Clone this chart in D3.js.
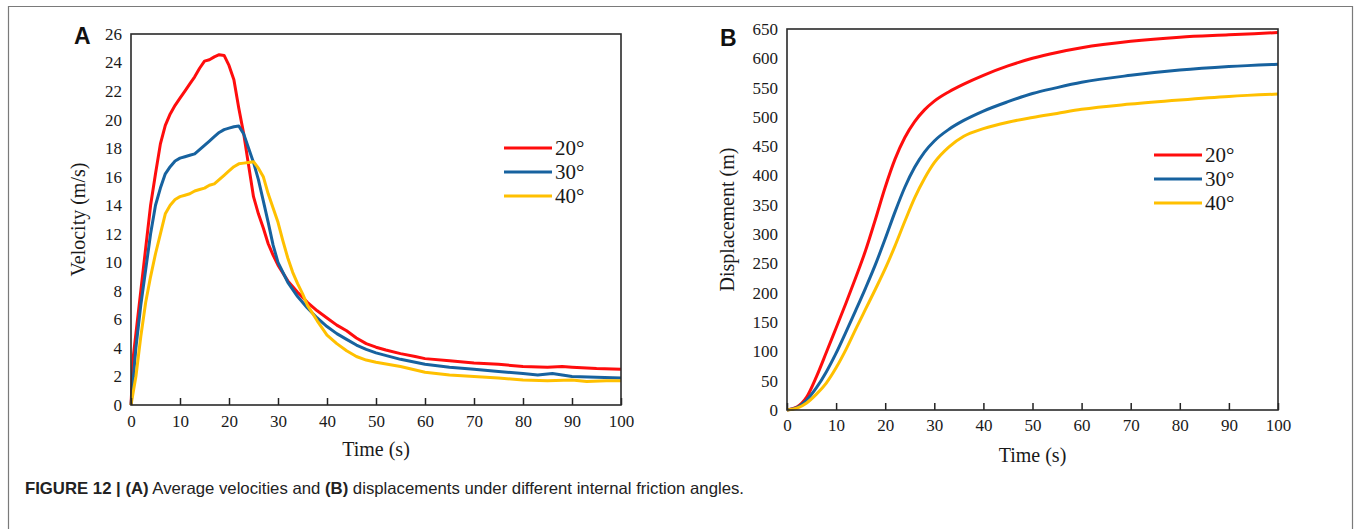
<!DOCTYPE html>
<html>
<head>
<meta charset="utf-8">
<script src="https://d3js.org/d3.v7.min.js"></script>
<style>
  body { margin: 0; background: #fff; }
  svg { display: block; }
</style>
</head>
<body>
<svg id="frame" width="1356" height="529"></svg>
<script>

// series labels + colours
var angles = ["20°", "30°", "40°"]
var colors = ["#ff0d0d", "#17629f", "#ffc000"]

// (A) average velocity, [time s, velocity m/s]
var vel20 = [[0,0],[0.5,3.5],[1,5],[2,8],[3,11],[4,14],[5,16.2],[6,18.3],[7,19.6],[8,20.4],[9,21],[10,21.5],[11,22],
  [12,22.5],[13,23],[14,23.6],[15,24.1],[16,24.2],[17,24.4],[18,24.55],[19,24.5],[20,23.8],[21,22.8],[22,20.8],
  [23,19],[24,16.8],[25,14.6],[26,13.4],[27,12.4],[28,11.3],[29,10.5],[30,9.8],[32,8.7],[34,7.9],[36,7.2],
  [38,6.6],[40,6.1],[42,5.6],[44,5.2],[46,4.7],[48,4.3],[50,4.05],[52,3.85],[55,3.6],[58,3.4],[60,3.25],
  [65,3.1],[70,2.95],[75,2.85],[80,2.7],[85,2.65],[88,2.7],[90,2.65],[95,2.55],[100,2.5]]

var vel30 = [[0,0],[1,4],[2,7],[3,9.5],[4,12],[5,14],[6,15.2],[7,16.2],[8,16.7],[9,17.1],[10,17.3],[11,17.4],
  [12,17.5],[13,17.6],[14,17.9],[15,18.2],[16,18.5],[17,18.8],[18,19.1],[19,19.3],[20,19.4],[21,19.5],[22,19.55],
  [23,19],[24,18],[25,17],[26,15.8],[27,14.3],[28,12.8],[29,11.2],[30,10],[32,8.6],[34,7.6],[36,6.8],[38,6.1],
  [40,5.5],[42,5],[44,4.6],[46,4.2],[48,3.9],[50,3.65],[55,3.2],[60,2.85],[65,2.65],[70,2.5],[75,2.35],
  [80,2.2],[83,2.1],[86,2.2],[88,2.1],[90,2.0],[95,1.95],[100,1.9]]

var vel40 = [[0,0],[1,2],[2,4.8],[3,7.2],[4,9],[5,10.6],[6,12],[7,13.4],[8,14],[9,14.4],[10,14.6],[11,14.7],
  [12,14.8],[13,15],[14,15.1],[15,15.2],[16,15.4],[17,15.5],[18,15.8],[19,16.1],[20,16.4],[21,16.7],[22,16.9],
  [23,16.95],[24,17],[25,17.05],[26,16.6],[27,16],[28,14.8],[29,13.8],[30,12.8],[31,11.5],[32,10.3],[33,9.3],
  [34,8.5],[35,7.8],[36,7],[38,5.9],[40,4.9],[42,4.3],[44,3.8],[46,3.4],[48,3.15],[50,3],[55,2.7],[60,2.3],
  [65,2.1],[70,2],[75,1.9],[80,1.75],[85,1.7],[90,1.75],[93,1.65],[97,1.7],[100,1.7]]

// (B) displacement, [time s, displacement m]
var dis20 = [[0,0],[2,5],[4,22],[6,57],[8,98],[10,140],[12,182],[14,226],[16,272],[18,325],[20,380],[22,428],
  [24,465],[26,492],[28,512],[30,527],[33,543],[36,556],[40,571],[45,587],[50,600],[55,610],[60,618],
  [70,629],[80,636],[90,640],[100,644]]

var dis30 = [[0,0],[2,4],[4,17],[6,38],[8,65],[10,97],[12,133],[14,170],[16,208],[18,248],[20,292],[22,338],
  [24,380],[26,414],[28,440],[30,459],[33,479],[36,494],[40,510],[45,526],[50,540],[55,550],[60,559],
  [70,571],[80,580],[90,586],[100,590]]

var dis40 = [[0,0],[2,3],[4,12],[6,27],[8,46],[10,72],[12,103],[14,138],[16,172],[18,206],[20,241],[22,280],
  [24,322],[26,362],[28,395],[30,422],[33,449],[36,467],[40,480],[45,491],[50,499],[55,506],[60,513],
  [70,522],[80,529],[90,535],[100,539]]

var timeTicks = d3.range(0, 101, 10)
var velTicks = d3.range(0, 27, 2)
var disTicks = d3.range(0, 651, 50)

var svg = d3.select("#frame")
var serif = "Liberation Serif, Times New Roman, serif"

// outer figure border
svg.append("path")
  .attr("d", "M8.5,540 V6.5 H1352.5 V540")
  .attr("fill", "none")
  .attr("stroke", "#7a7a7a")
  .attr("stroke-width", 1.2)

function panel(opt) {
  var x = d3.scaleLinear().domain([0, 100]).range(opt.xr)
  var y = d3.scaleLinear().domain(opt.ydom).range(opt.yr)
  var g = svg.append("g")

  // curves
  var line = d3.line()
    .x(d => x(d[0]))
    .y(d => y(d[1]))
    .curve(opt.curve)

  opt.series.forEach(function(s, i) {
    g.append("path")
      .datum(s)
      .attr("d", line)
      .attr("fill", "none")
      .attr("stroke", colors[i])
      .attr("stroke-width", 3)
      .attr("stroke-linejoin", "round")
  })

  // x axis, ticks pointing in
  var xa = g.append("g")
    .attr("transform", `translate(0, ${opt.yr[0]})`)
    .call(d3.axisBottom(x).tickValues(timeTicks).tickSize(-7).tickPadding(opt.xpad).tickSizeOuter(0))
    .attr("font-family", serif)
    .attr("font-size", 17)
  xa.select(".domain").remove()
  xa.selectAll("line").attr("stroke", "#222").attr("stroke-width", 1.5)
  xa.selectAll("text").attr("fill", "#1a1a1a").style("font-family", serif)

  var ya = g.append("g")
    .attr("transform", `translate(${opt.xr[0]}, 0)`)
    .call(d3.axisLeft(y).tickValues(opt.yticks).tickSize(0).tickPadding(9))
    .attr("font-family", serif)
    .attr("font-size", 17)
  ya.select(".domain").remove()
  ya.selectAll("text").attr("fill", "#1a1a1a").style("font-family", serif)

  // box
  g.append("rect")
    .attr("x", opt.xr[0])
    .attr("y", opt.yr[1])
    .attr("width", opt.xr[1] - opt.xr[0])
    .attr("height", opt.yr[0] - opt.yr[1])
    .attr("fill", "none")
    .attr("stroke", "#2a2a2a")
    .attr("stroke-width", 1.6)

  // axis titles
  g.append("text")
    .attr("x", (opt.xr[0] + opt.xr[1]) / 2)
    .attr("y", opt.xtitleY)
    .attr("text-anchor", "middle")
    .attr("font-family", serif)
    .attr("font-size", 20)
    .attr("fill", "#1a1a1a")
    .text("Time (s)")

  g.append("text")
    .attr("transform", `translate(${opt.ytitleX}, ${(opt.yr[0] + opt.yr[1]) / 2}) rotate(-90)`)
    .attr("text-anchor", "middle")
    .attr("font-family", serif)
    .attr("font-size", 20)
    .attr("fill", "#1a1a1a")
    .text(opt.ytitle)

  // panel letter
  g.append("text")
    .attr("x", opt.letter[0])
    .attr("y", opt.letter[1])
    .attr("font-family", "Liberation Sans, Arial, sans-serif")
    .attr("font-size", 23)
    .attr("font-weight", "bold")
    .attr("fill", "#111")
    .text(opt.label)

  // legend
  var lg = g.append("g").attr("transform", `translate(${opt.legend[0]}, ${opt.legend[1]})`)
  angles.forEach(function(a, i) {
    lg.append("line")
      .attr("x1", 0).attr("x2", 48)
      .attr("y1", i * 24).attr("y2", i * 24)
      .attr("stroke", colors[i])
      .attr("stroke-width", 3)
    lg.append("text")
      .attr("x", 51)
      .attr("y", i * 24 + 7)
      .attr("font-family", serif)
      .attr("font-size", 21)
      .attr("fill", "#1a1a1a")
      .text(a)
  })
}

panel({
  xr: [131, 621], yr: [405, 34], ydom: [0, 26], yticks: velTicks,
  series: [vel20, vel30, vel40], curve: d3.curveLinear, xpad: 10,
  xtitleY: 456, ytitleX: 85, ytitle: "Velocity (m/s)",
  letter: [74, 44], label: "A", legend: [504, 148]
})

panel({
  xr: [787, 1278], yr: [410, 29], ydom: [0, 650], yticks: disTicks,
  series: [dis20, dis30, dis40], curve: d3.curveMonotoneX, xpad: 9,
  xtitleY: 462, ytitleX: 734, ytitle: "Displacement (m)",
  letter: [720, 46], label: "B", legend: [1154, 155]
})

// caption (squeezed to the width of the original's condensed face)
var cap = svg.append("text")
  .attr("x", 25)
  .attr("y", 494)
  .attr("textLength", 719)
  .attr("lengthAdjust", "spacingAndGlyphs")
  .attr("font-family", "Liberation Sans, Arial, sans-serif")
  .attr("font-size", 16.5)
  .attr("fill", "#222")

cap.append("tspan").attr("font-weight", "bold").text("FIGURE 12 | (A)")
cap.append("tspan").text(" Average velocities and ")
cap.append("tspan").attr("font-weight", "bold").text("(B)")
cap.append("tspan").text(" displacements under different internal friction angles.")

</script>
</body>
</html>
